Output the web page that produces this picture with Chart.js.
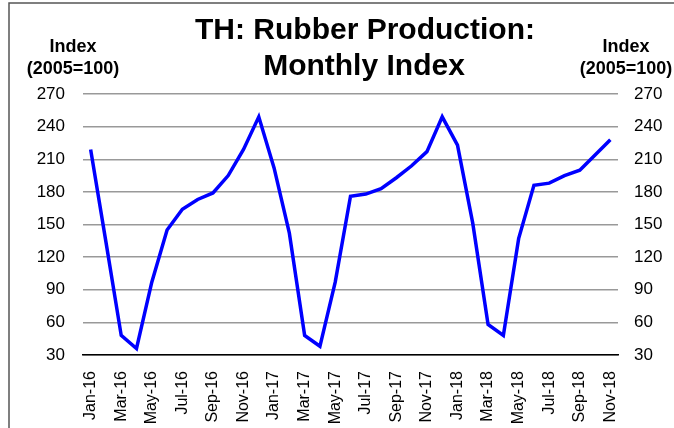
<!DOCTYPE html>
<html>
<head>
    <title>TH: Rubber Production</title>
    <script src="https://cdn.jsdelivr.net/npm/chart.js"></script>
    <style>
      body { margin: 0; background: #fff; }
    </style>
</head>
<body>
    <canvas id="chart" width="674" height="428"></canvas>

    <script>
    const months = [
      'Jan-16','Feb-16','Mar-16','Apr-16','May-16','Jun-16','Jul-16','Aug-16','Sep-16','Oct-16','Nov-16','Dec-16',
      'Jan-17','Feb-17','Mar-17','Apr-17','May-17','Jun-17','Jul-17','Aug-17','Sep-17','Oct-17','Nov-17','Dec-17',
      'Jan-18','Feb-18','Mar-18','Apr-18','May-18','Jun-18','Jul-18','Aug-18','Sep-18','Oct-18','Nov-18'
    ];
    const rubberIndex = [
      219, 134, 48, 36, 97, 145, 164, 173, 179, 195, 219, 249,
      202, 142, 48, 38, 97, 176, 178, 183, 193, 204, 217, 249,
      223, 151, 58, 48, 137, 186, 188, 195, 200, 214, 228
    ];
    const yMin = 30, yMax = 270, yStep = 30;
    const titleLines = ['TH: Rubber Production:', 'Monthly Index'];
    const axisTitle = ['Index', '(2005=100)'];

    const FONT = '"Liberation Sans", Arial, sans-serif';

    // white background, frame, title and axis captions
    const decor = {
      id: 'decor',
      beforeDraw(chart) {
        const c = chart.ctx;
        c.save();
        c.fillStyle = '#fff';
        c.fillRect(0, 0, chart.width, chart.height);
        c.strokeStyle = '#555';
        c.lineWidth = 1.5;
        c.strokeRect(9, 3, 800, 600);
        c.restore();
      },
      afterDraw(chart) {
        const c = chart.ctx;
        c.save();
        c.fillStyle = '#000';
        c.textAlign = 'center';
        c.textBaseline = 'alphabetic';
        c.font = 'bold 30px ' + FONT;
        c.fillText(titleLines[0], 365, 39);
        c.fillText(titleLines[1], 364, 75);
        c.font = 'bold 18px ' + FONT;
        c.fillText(axisTitle[0], 73, 52);
        c.fillText(axisTitle[1], 73, 74);
        c.fillText(axisTitle[0], 626, 52);
        c.fillText(axisTitle[1], 626, 74);
        c.restore();
      }
    };

    const ctx = document.getElementById('chart').getContext('2d');
    const chart = new Chart(ctx, {
      type: 'line',
      data: {
        labels: months,
        datasets: [{
          data: rubberIndex,
          borderColor: '#0000ff',
          borderWidth: 3.5,
          pointRadius: 0,
          tension: 0,
          fill: false,
          yAxisID: 'y'
        }]
      },
      options: {
        responsive: false,
        animation: false,
        layout: { padding: { top: 94, left: 0, right: 0, bottom: 0 } },
        plugins: { legend: { display: false }, tooltip: { enabled: false } },
        scales: {
          x: {
            offset: true,
            grid: { display: false },
            border: { display: true, color: '#000', width: 1.5 },
            ticks: {
              autoSkip: false,
              minRotation: 90,
              maxRotation: 90,
              padding: 8,
              color: '#000',
              font: { family: FONT, size: 16 },
              callback: (v, i) => i % 2 === 0 ? months[i] : ''
            },
            afterFit: s => { s.height = 73; }
          },
          y: {
            position: 'left',
            min: yMin, max: yMax,
            grid: { color: '#999', lineWidth: 1.5, drawTicks: false },
            border: { display: false },
            ticks: { stepSize: yStep, padding: 18, color: '#000', font: { family: FONT, size: 17 } },
            afterFit: s => { s.width = 83; }
          },
          y2: {
            position: 'right',
            min: yMin, max: yMax,
            grid: { display: false, drawTicks: false },
            border: { display: false },
            ticks: { stepSize: yStep, padding: 16, color: '#000', font: { family: FONT, size: 17 } },
            afterFit: s => { s.width = 56; }
          }
        }
      },
      plugins: [decor]
    });
    </script>
</body>
</html>
